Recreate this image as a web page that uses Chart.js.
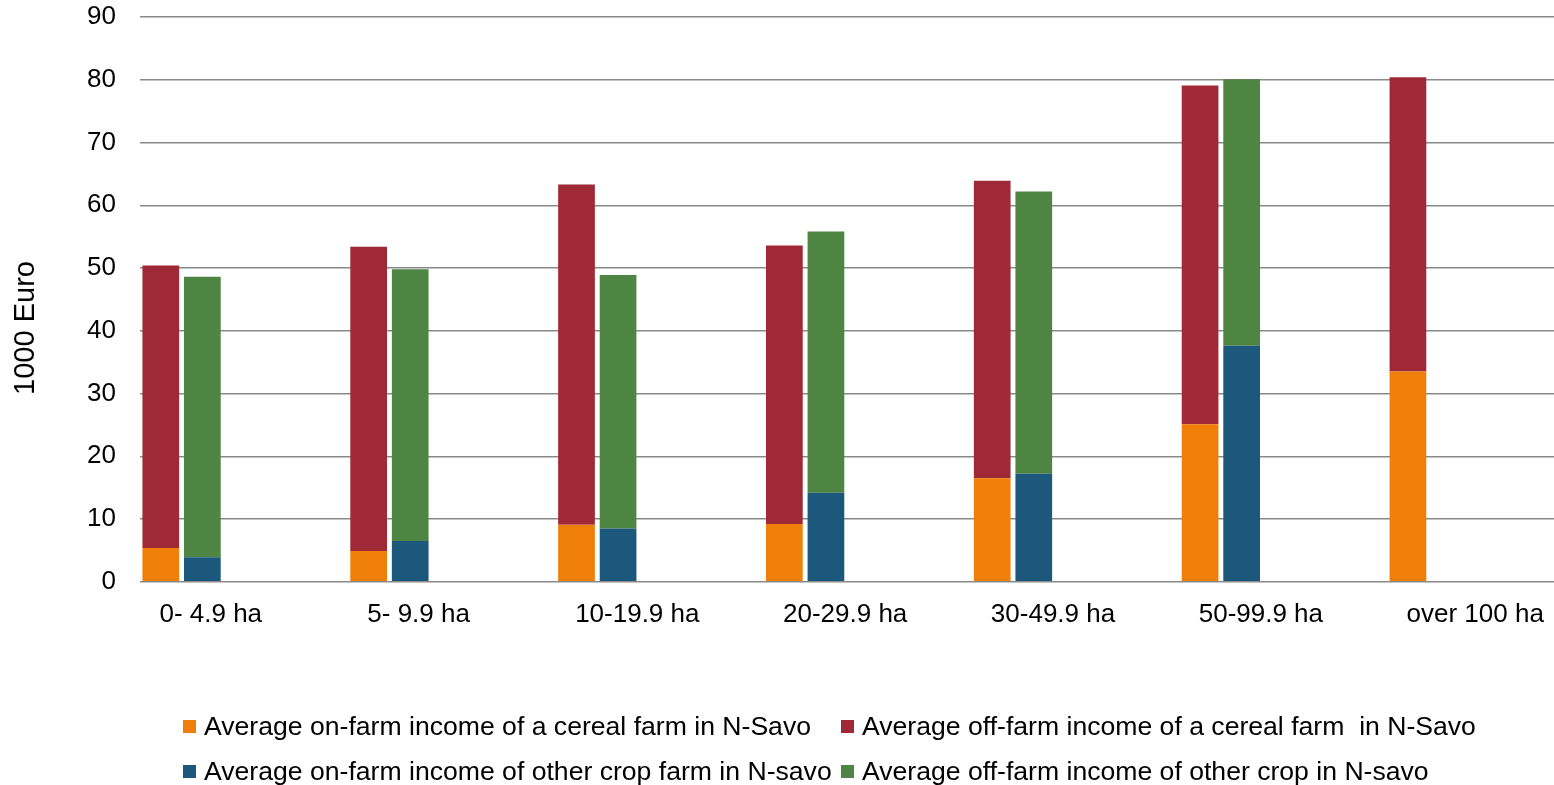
<!DOCTYPE html>
<html>
<head>
<meta charset="utf-8">
<title>Farm income in N-Savo</title>
<script src="https://cdn.jsdelivr.net/npm/chart.js@4.4.1/dist/chart.umd.min.js"></script>
<style>
  html, body { margin: 0; padding: 0; background: #fff; overflow: hidden; }
  body { width: 1554px; height: 785px; position: relative; font-family: "Liberation Sans", Arial, sans-serif; }
  #wrap { position: absolute; left: 0; top: 0; width: 1595px; height: 785px; }
  #legend { position: absolute; left: 0; top: 0; width: 1554px; height: 785px; pointer-events: none; }
  .item { position: absolute; display: flex; align-items: center; height: 30px; font-size: 26.6px; color: #000; white-space: pre; }
  .box { width: 13px; height: 13px; margin-right: 8px; flex: none; }
</style>
</head>
<body>
<div id="wrap"><canvas id="chart" width="1595" height="785"></canvas></div>
<div id="legend"></div>
<script>
// farm size classes
const categories = ["0- 4.9 ha", "5- 9.9 ha", "10-19.9 ha", "20-29.9 ha", "30-49.9 ha", "50-99.9 ha", "over 100 ha"];

// 1000 Euro (off-farm = part stacked on top)
const cerealOnFarm = [5.4, 4.9, 9.1, 9.2, 16.5, 25.1, 33.5];
const cerealOffFarm = [45.0, 48.5, 54.2, 44.4, 47.4, 54.0, 46.9];
const otherOnFarm = [3.9, 6.5, 8.5, 14.2, 17.2, 37.6, null];
const otherOffFarm = [44.7, 43.3, 40.4, 41.6, 45.0, 42.5, null];

const seriesLabels = [
  "Average on-farm income of a cereal farm in N-Savo",
  "Average off-farm income of a cereal farm  in N-Savo",
  "Average on-farm income of other crop farm in N-savo",
  "Average off-farm income of other crop in N-savo"
];
const seriesColors = ["#F07F09", "#9F2936", "#1B587C", "#4E8542"];
const yTicks = [0, 10, 20, 30, 40, 50, 60, 70, 80, 90];
const yTitle = "1000 Euro";

const FONT = '"Liberation Sans", Arial, sans-serif';
Chart.defaults.font.family = FONT;
Chart.defaults.color = "#000";

// draws the rotated y axis title where the original has it
const axisTitle = {
  id: "axisTitle",
  afterDraw(chart) {
    const ctx = chart.ctx;
    ctx.save();
    ctx.translate(26, 328);
    ctx.rotate(-Math.PI / 2);
    ctx.font = "29px " + FONT;
    ctx.fillStyle = "#000";
    ctx.textAlign = "center";
    ctx.textBaseline = "middle";
    ctx.fillText(yTitle, 0, 0);
    ctx.restore();
  }
};

const series = [cerealOnFarm, cerealOffFarm, otherOnFarm, otherOffFarm];
const stacks = ["cereal", "cereal", "other", "other"];

const datasets = series.map((data, i) => ({
  label: seriesLabels[i],
  data: data,
  backgroundColor: seriesColors[i],
  stack: stacks[i],
  barPercentage: 0.883,
  categoryPercentage: 1
}));
// empty stacks: the two real columns sit in the left part of each category
["pad1", "pad2", "pad3"].forEach((s) => {
  datasets.push({ label: "", data: [], stack: s, barPercentage: 0.883, categoryPercentage: 1 });
});

const chart = new Chart(document.getElementById("chart"), {
  type: "bar",
  data: { labels: categories, datasets: datasets },
  plugins: [axisTitle],
  options: {
    responsive: false,
    animation: false,
    layout: { padding: { top: 17, bottom: 138, left: 0, right: 0 } },
    plugins: { legend: { display: false }, tooltip: { enabled: false } },
    scales: {
      x: {
        stacked: true,
        grid: { display: false, drawTicks: false },
        border: { display: false },
        ticks: {
          font: { size: 26 },
          color: "#000",
          padding: 17,
          align: "start",
          labelOffset: -84.5,
          autoSkip: false,
          maxRotation: 0
        },
        afterFit: (scale) => {
          scale.paddingLeft = 0;
          scale.paddingRight = 0;
        }
      },
      y: {
        stacked: true,
        min: 0,
        max: 90,
        afterBuildTicks: (scale) => {
          scale.ticks = yTicks.map((v) => ({ value: v }));
        },
        grid: { color: "#898989", lineWidth: 1.5, drawTicks: false },
        border: { display: false },
        ticks: { font: { size: 26 }, color: "#000", padding: 24 },
        afterFit: (scale) => {
          scale.width = 140;
          scale.paddingTop = 0;
          scale.paddingBottom = 0;
        }
      }
    }
  }
});

// legend in two aligned columns, like the original
const legendBox = document.getElementById("legend");
const colX = [183, 841];
const rowY = [726, 771];
chart.data.datasets.slice(0, 4).forEach((ds, i) => {
  const item = document.createElement("div");
  item.className = "item";
  item.style.left = colX[i % 2] + "px";
  item.style.top = rowY[Math.floor(i / 2)] - 15 + "px";
  const box = document.createElement("span");
  box.className = "box";
  box.style.background = ds.backgroundColor;
  const text = document.createElement("span");
  text.textContent = ds.label;
  item.appendChild(box);
  item.appendChild(text);
  legendBox.appendChild(item);
});
</script>
</body>
</html>
